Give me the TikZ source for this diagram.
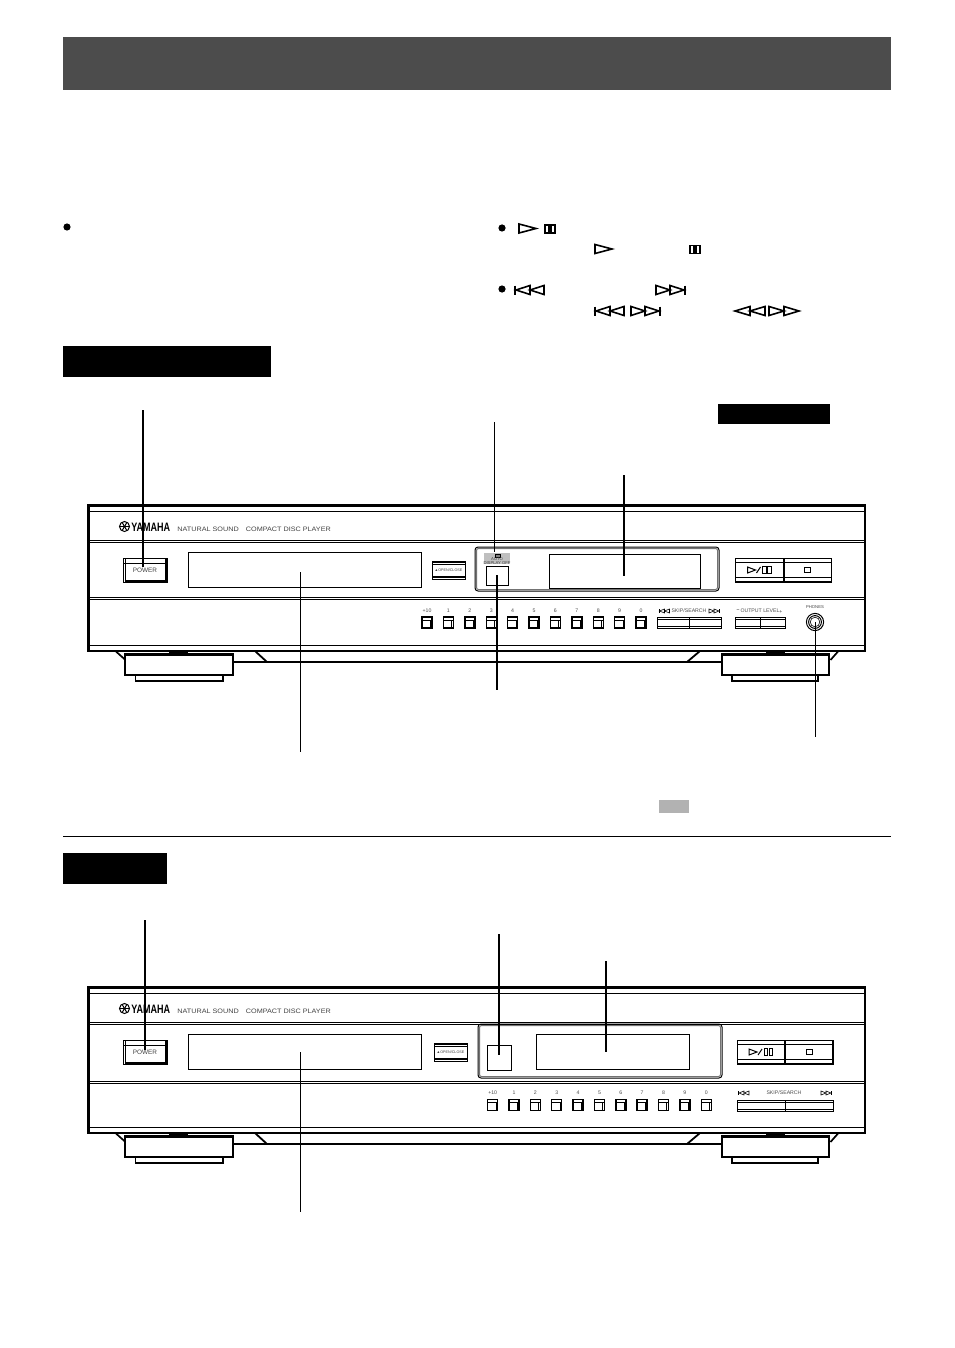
\documentclass[tikz,border=0pt]{standalone}
\usepackage{fontspec}
\setmainfont{Liberation Sans}
\newfontfamily\logofont[FakeStretch=0.74]{Liberation Sans}
\newfontfamily\widefont[FakeStretch=1.13]{Liberation Sans}

\begin{document}
\begin{tikzpicture}[x=0.5pt,y=-0.5pt]
		\tikzset{
			hair/.style = {line width = 0.3pt},
			thinline/.style = {line width = 0.5pt},
			midline/.style = {line width = 0.8pt},
			frameline/.style = {line width = 1.2pt},
			leaderline/.style = {line width = 0.85pt},
			paneltext/.style = {inner sep = 0pt,text = black!75,font = \fontsize{3.2}{3.6}\selectfont},
			tinytext/.style = {inner sep = 0pt,text = black!75,font = \fontsize{2.1}{2.5}\selectfont,align = center},
			keylabel/.style = {inner sep = 0pt,text = black!70,font = \fontsize{2.6}{3}\selectfont},
			blockfill/.style = {fill = black,draw = none},
			playtri/.pic = {
				\draw [midline,line join = miter] (0,-4.5) -- (0,4.5) -- (17,0) -- cycle;
			},
			pausebars/.pic = {
				\draw [line width = 0.6pt] (0,-4) rectangle (4,4);
				\draw [line width = 0.6pt] (6,-4) rectangle (10,4);
			},
			fastfwd/.pic = {
				\draw [midline] (0,-4.5) -- (0,4.5) -- (15,0) -- cycle;
				\draw [midline] (15,-4.5) -- (15,4.5) -- (30,0) -- cycle;
			},
			skipfwd/.pic = {
				\draw [midline] (0,-4.5) -- (0,4.5) -- (14,0) -- cycle;
				\draw [midline] (14,-4.5) -- (14,4.5) -- (28,0) -- cycle;
				\draw [midline] (29,-4.5) -- (29,4.5);
			},
			smallskip/.pic = {
				\draw [hair] (0,-2) -- (0,2) -- (5,0) -- cycle;
				\draw [hair] (5,-2) -- (5,2) -- (10,0) -- cycle;
				\draw [thinline] (10.5,-2) -- (10.5,2);
			},
			keybutton/.pic = {
				\draw [line width = 0.7pt] (-5,-5.5) rectangle (5,5.5);
				\draw [hair] (-5,-2.5) -- (5,-2.5);
				\draw [thinline] (3.4,-2.5) -- (3.4,5.5);
			},
			openclose/.pic = {
				\draw [thinline] (0,0) rectangle (33,18);
				\foreach \y in {1.6,3.2,14.8,16.4}
					\draw [hair] (0,\y) -- (33,\y);
				\node [tinytext,font = \fontsize{1.85}{2}\selectfont] (openlabel) at (16.5,9) {▲OPEN/CLOSE};
			},
			playstop/.pic = {
				\draw [thinline] (-48,-12) rectangle (48,12);
				\draw [thinline] (-48,-8) -- (48,-8);
				\draw [midline] (-48,7.5) -- (48,7.5);
				\draw [midline] (-48,12) -- (48,12);
				\draw [midline] (48,-12) -- (48,12);
				\draw [line width = 1pt] (0,-12) -- (0,12);
				\draw [thinline] (-36,-3) -- (-36,3) -- (-28,0) -- cycle;
				\draw [thinline] (-27,3) -- (-23,-3);
				\draw [thinline] (-21,-3.5) rectangle (-17.5,3.5);
				\draw [thinline] (-16,-3.5) rectangle (-12.5,3.5);
				\draw [thinline] (21,-3) rectangle (27,2.5);
			},
			playerbody/.pic = {
				\draw [frameline] (88.5,505.5) rectangle (865,651);
				\draw [thinline] (89,511) -- (865,511);
				\draw [thinline] (89,540) -- (865,540);
				\draw [thinline] (89,542) -- (865,542);
				\draw [thinline] (89,645) -- (865,645);
				% logo and name
				\draw [thinline] (124.5,526.5) circle (5);
				\foreach \a in {0,60,120}
					\draw [thinline] (124.5,526.5) ++(\a:5) -- ++(\a+180:10);
				\node [inner sep = 0pt,anchor = west,font = \logofont\bfseries\fontsize{6.1}{7}\selectfont] (brand) at (131,526.8) {YAMAHA};
				\node [paneltext,anchor = west,font = \widefont\fontsize{3.2}{3.6}\selectfont] (model) at (177,529) {NATURAL SOUND\hspace{3.6pt}COMPACT DISC PLAYER};
				% power and tray
				\draw [thinline] (123,558) rectangle (167,582);
				\draw [thinline] (123,563) -- (166,563);
				\draw [thinline] (125,558) -- (125,582);
				\draw [line width = 1pt] (166,558) -- (166,581) -- (125,581);
				\node [paneltext] (power) at (145,570.5) {POWER};
				\draw [thinline] (188,552) rectangle (421,587);
				% feet
				\draw [leaderline] (116,651.5) -- (125.5,660);
				\draw [line width = 0.9pt] (233,662) -- (722,662);
				\draw [line width = 0.9pt] (255,651) -- (267,662);
				\draw [line width = 0.9pt] (700,651) -- (687,662);
				\draw [leaderline] (838,651.5) -- (830.5,660);
				\draw [frameline,fill = white] (125,654.5) rectangle (233,675);
				\draw [midline,fill = white] (135.5,675) rectangle (223,681);
				\draw [blockfill] (169,650) rectangle (188,653.5);
				\draw [frameline,fill = white] (722,654.5) rectangle (829,675);
				\draw [midline,fill = white] (732,675) rectangle (818,681);
				\draw [blockfill] (766,650) rectangle (785,653.5);
			}
		}
		\useasboundingbox (0,0) rectangle (954,1348);
		% page blocks
		\fill [color = black!70] (63,37) rectangle (891,90);
		\fill [black] (63,346) rectangle (271,377);
		\fill [black] (718,404) rectangle (830,424);
		\fill [black] (63,853) rectangle (167,884);
		\fill [black!30] (659,800) rectangle (689,813);
		\draw [thinline] (63,836) -- (891,836);
		\fill (67,227) circle (3.6);
		\fill (502,228) circle (3.6);
		\fill (502,289) circle (3.6);
		\pic at (519,228.5) {playtri};
		\pic at (545,229) {pausebars};
		\pic at (595,249) {playtri};
		\pic at (690,249.5) {pausebars};
		\pic [xscale = -1] at (544,290) {skipfwd};
		\pic at (656,290) {skipfwd};
		\pic [xscale = -1] at (624,311) {skipfwd};
		\pic at (631,311) {skipfwd};
		\pic [xscale = -1] at (765,311) {fastfwd};
		\pic at (769,311) {fastfwd};
		% upper player
		\pic (upper) at (0,0) {playerbody};
		\draw [thinline] (89,597) -- (865,597);
		\draw [thinline] (89,599) -- (865,599);
		\pic at (432,561) {openclose};
		\draw [thinline,rounded corners = 1.5pt] (475,547) rectangle (719,591);
		\draw [thinline,black!55,rounded corners = 1pt] (476.5,548.5) rectangle (717.5,589.5);
		\fill [black!25] (484,553) rectangle (510,564);
		\draw [thinline,fill = black!50] (495,554) rectangle (500,557);
		\node [tinytext] (autooff) at (497,561) {AUTO\\[-0.9pt]DISPLAY OFF};
		\draw [thinline] (486,566) rectangle (508,585);
		\draw [thinline] (549,554) rectangle (700,588);
		\pic at (783.5,570) {playstop};
		\foreach \lab [count = \i from 0] in {+10,1,2,3,4,5,6,7,8,9,0} {
			\node [keylabel] (keya\i) at ({427+21.4*\i},611) {\lab};
			\pic at ({427+21.4*\i},622.5) {keybutton};
		}
		\pic [xscale = -1] at (669.5,611) {smallskip};
		\node [keylabel] (skipa) at (689,611) {SKIP/SEARCH};
		\pic at (709,611) {smallskip};
		\draw [thinline] (657,617) rectangle (721,628);
		\draw [thinline] (657,619) -- (721,619);
		\draw [midline] (657,626.5) -- (721,626.5);
		\draw [thinline] (689,617) -- (689,628);
		\node [keylabel] (outlevel) at (760,611) {OUTPUT LEVEL};
		\node [keylabel] (outminus) at (738,611) {\textbf{--}};
		\node [keylabel] (outplus) at (781,611.5) {+};
		\draw [thinline] (735,617) rectangle (785,628);
		\draw [thinline] (735,619) -- (785,619);
		\draw [midline] (735,626.5) -- (785,626.5);
		\draw [thinline] (760,617) -- (760,628);
		\node [tinytext] (phones) at (815,607) {PHONES};
		\draw [thinline] (815,622) circle (8.6);
		\draw [thinline] (815,622) circle (6.4);
		\draw [hair] (815,622) circle (4.8);
		% lower player
		\pic (lower) at (0,482) {playerbody};
		\draw [thinline] (89,1081) -- (865,1081);
		\draw [thinline] (89,1083) -- (865,1083);
		\pic at (434,1043) {openclose};
		\draw [thinline,rounded corners = 1.5pt] (478,1024) rectangle (722,1078);
		\draw [thinline,black!55,rounded corners = 1pt] (479.5,1025.5) rectangle (720.5,1076.5);
		\draw [thinline] (487,1045) rectangle (511,1070);
		\draw [thinline] (536,1034) rectangle (689,1069);
		\pic at (785,1052) {playstop};
		\foreach \lab [count = \i from 0] in {+10,1,2,3,4,5,6,7,8,9,0} {
			\node [keylabel] (keyb\i) at ({492.7+21.35*\i},1093) {\lab};
			\pic at ({492.7+21.35*\i},1105) {keybutton};
		}
		\pic [xscale = -1] at (749,1093) {smallskip};
		\node [keylabel] (skipb) at (784,1093) {SKIP/SEARCH};
		\pic at (821,1093) {smallskip};
		\draw [thinline] (737,1100) rectangle (833,1111);
		\draw [thinline] (737,1102) -- (833,1102);
		\draw [midline] (737,1109.5) -- (833,1109.5);
		\draw [thinline] (785,1100) -- (785,1111);
		% leader lines
		\coordinate (powerTopA) at (143,410);
		\coordinate (powerTopB) at (143,567);
		\coordinate (autoA) at (494,422);
		\coordinate (autoB) at (494,552);
		\coordinate (displayA) at (624,475);
		\coordinate (displayB) at (624,576);
		\coordinate (remoteA) at (497,575);
		\coordinate (remoteB) at (497,690);
		\coordinate (trayA) at (300.5,572);
		\coordinate (trayB) at (300.5,752);
		\coordinate (phonesA) at (815.5,622);
		\coordinate (phonesB) at (815.5,737);
		\coordinate (powerLowA) at (145,920);
		\coordinate (powerLowB) at (145,1050);
		\coordinate (remoteLowA) at (499.3,934);
		\coordinate (remoteLowB) at (499.3,1055);
		\coordinate (displayLowA) at (605.7,961);
		\coordinate (displayLowB) at (605.7,1052);
		\coordinate (trayLowA) at (300.5,1052);
		\coordinate (trayLowB) at (300.5,1212);
		\draw [leaderline] (powerTopA) -- (powerTopB);
		\draw [thinline] (autoA) -- (autoB);
		\draw [leaderline] (displayA) -- (displayB);
		\draw [leaderline] (remoteA) -- (remoteB);
		\draw [leaderline] (trayA) -- (trayB);
		\draw [thinline] (phonesA) -- (phonesB);
		\draw [leaderline] (powerLowA) -- (powerLowB);
		\draw [leaderline] (remoteLowA) -- (remoteLowB);
		\draw [leaderline] (displayLowA) -- (displayLowB);
		\draw [thinline] (trayLowA) -- (trayLowB);
	\end{tikzpicture}
\end{document}
